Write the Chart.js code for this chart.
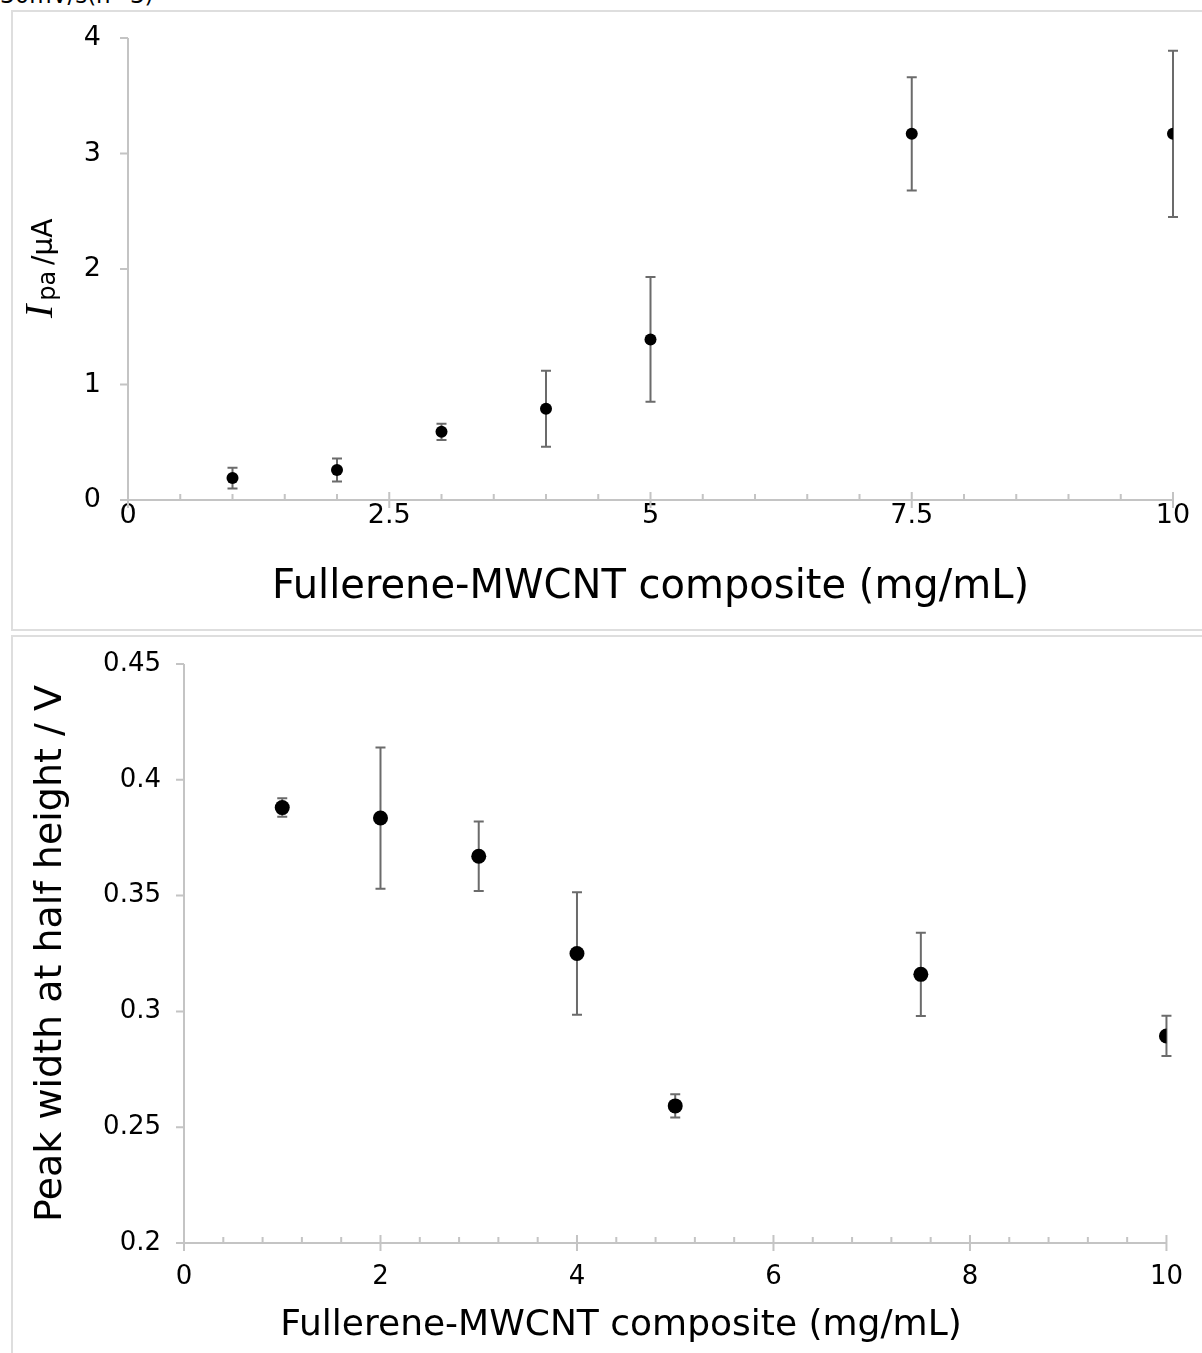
<!DOCTYPE html>
<html>
<head>
<meta charset="utf-8">
<script src="https://cdn.jsdelivr.net/npm/chart.js@4.4.0/dist/chart.umd.min.js"></script>
<style>
  body { margin: 0; background: #fff; width: 1202px; height: 1353px; overflow: hidden; position: relative; font-family: "DejaVu Sans", sans-serif; }
  .note { position: absolute; left: 0; top: -16px; font-size: 23px; line-height: 23px; color: #000; white-space: nowrap; }
  .panel { position: absolute; left: 11px; border: 2px solid #dedede; border-right: none; box-sizing: border-box; }
  #p1 { top: 10px; width: 1191px; height: 621px; }
  #p2 { top: 635px; width: 1191px; height: 730px; }
  canvas { position: absolute; }
  #currentChart { left: 12px; top: 11px; }
  #widthChart { left: 12px; top: 636px; }
</style>
</head>
<body>
<div class="note">30mV/s(n=3)</div>
<div class="panel" id="p1"></div>
<div class="panel" id="p2"></div>
<canvas id="currentChart" width="1190" height="619"></canvas>
<canvas id="widthChart" width="1190" height="717"></canvas>
<script>
document.addEventListener('DOMContentLoaded', function() {
    "use strict";

    // composite loading, mg/mL
    const loadings = [1, 2, 3, 4, 5, 7.5, 10];

    // top panel: anodic peak current (uA) with std dev
    const peakCurrent = [0.19, 0.26, 0.59, 0.79, 1.39, 3.17, 3.17];
    const peakCurrentErr = [0.09, 0.10, 0.07, 0.33, 0.54, 0.49, 0.72];

    // bottom panel: peak width at half height (V) with std dev
    const peakWidth = [0.388, 0.3835, 0.367, 0.325, 0.2592, 0.316, 0.2894];
    const peakWidthErr = [0.004, 0.0305, 0.015, 0.0265, 0.005, 0.018, 0.0087];

    const xTitle = 'Fullerene-MWCNT composite (mg/mL)';
    const widthTitle = 'Peak width at half height / V';

    const axisGrey = '#c4c4c4';
    const barGrey = '#6b6b6b';
    const FONT = '"DejaVu Sans", sans-serif';

    // axis lines, excel-style cross ticks, minor ticks and error bars
    const sciPlot = {
        id: 'sciPlot',
        beforeDatasetsDraw(chart, args, opts) {
            const ctx = chart.ctx;
            const xs = chart.scales.x, ys = chart.scales.y;
            const a = chart.chartArea;
            ctx.save();
            ctx.strokeStyle = axisGrey;
            ctx.lineWidth = 2;
            ctx.beginPath();
            ctx.moveTo(a.left, a.top);
            ctx.lineTo(a.left, a.bottom);
            ctx.moveTo(a.left - 8, a.bottom);
            ctx.lineTo(a.right, a.bottom);
            // y major ticks (outside)
            ys.ticks.forEach(t => {
                const y = ys.getPixelForValue(t.value);
                ctx.moveTo(a.left - 8, y);
                ctx.lineTo(a.left, y);
            });
            // x major ticks (cross)
            xs.ticks.forEach(t => {
                const x = xs.getPixelForValue(t.value);
                ctx.moveTo(x, a.bottom - 8);
                ctx.lineTo(x, a.bottom + 8);
            });
            // x minor ticks (inside)
            for (let v = opts.minorStep; v < xs.max - 1e-9; v += opts.minorStep) {
                const x = xs.getPixelForValue(v);
                ctx.moveTo(x, a.bottom - 6);
                ctx.lineTo(x, a.bottom);
            }
            ctx.stroke();

            // error bars
            const vals = chart.data.datasets[0].data;
            ctx.strokeStyle = barGrey;
            ctx.lineWidth = 2;
            ctx.beginPath();
            vals.forEach((p, i) => {
                const e = opts.errors[i];
                const x = xs.getPixelForValue(p.x);
                const yHi = ys.getPixelForValue(p.y + e);
                const yLo = ys.getPixelForValue(p.y - e);
                ctx.moveTo(x, yHi);
                ctx.lineTo(x, yLo);
                ctx.moveTo(x - 5, yHi);
                ctx.lineTo(x + 5, yHi);
                ctx.moveTo(x - 5, yLo);
                ctx.lineTo(x + 5, yLo);
            });
            ctx.stroke();
            ctx.restore();
        },
        afterDraw(chart, args, opts) {
            const ctx = chart.ctx;
            if (opts.ipaTitle) {
                // I_pa /uA with italic serif I and subscript "pa"
                ctx.save();
                ctx.translate(40, 307);
                ctx.rotate(-Math.PI / 2);
                ctx.fillStyle = '#000';
                ctx.textBaseline = 'alphabetic';
                ctx.textAlign = 'left';
                ctx.font = 'italic 40px "Liberation Serif", serif';
                ctx.fillText('I', 0, 0);
                const wI = ctx.measureText('I').width;
                ctx.font = '24px ' + FONT;
                ctx.fillText('pa', wI + 4, 3);
                ctx.font = '28px ' + FONT;
                ctx.fillText('/\u00b5A', 53, 0);
                ctx.restore();
            }
            if (opts.xTitleAt) {
                ctx.save();
                ctx.fillStyle = '#000';
                ctx.font = opts.xTitleAt.size + 'px ' + FONT;
                ctx.textAlign = 'center';
                ctx.textBaseline = 'middle';
                ctx.fillText(xTitle, opts.xTitleAt.x, opts.xTitleAt.y);
                ctx.restore();
            }
        }
    };

    Chart.register(sciPlot);

    function makePoints(ys) {
        return loadings.map((x, i) => ({ x: x, y: ys[i] }));
    }

    // drop the half-label overhang so layout padding sets the plot top
    function fixYWidth(w) {
        return s => { s.width = w; s.paddingTop = 0; s.paddingBottom = 0; };
    }

    // ==========================================
    // 1. Peak current vs loading
    // ==========================================
    const currentCtx = document.getElementById('currentChart');
    if (currentCtx) {
        new Chart(currentCtx, {
            type: 'scatter',
            data: {
                datasets: [{
                    data: makePoints(peakCurrent),
                    backgroundColor: '#000',
                    borderWidth: 0,
                    pointRadius: 6,
                    pointHoverRadius: 6
                }]
            },
            options: {
                responsive: false,
                animation: false,
                devicePixelRatio: 1,
                layout: { padding: { top: 27, right: 29, left: 0, bottom: 0 } },
                plugins: {
                    legend: { display: false },
                    tooltip: { enabled: false },
                    sciPlot: { minorStep: 0.5, errors: peakCurrentErr, ipaTitle: true }
                },
                scales: {
                    x: {
                        type: 'linear',
                        min: 0,
                        max: 10,
                        grid: { display: false, drawTicks: false },
                        border: { display: false },
                        ticks: {
                            stepSize: 2.5,
                            autoSkip: false,
                            maxRotation: 0,
                            padding: 0,
                            color: '#000',
                            font: { family: FONT, size: 27 },
                            callback: v => String(v)
                        },
                        title: {
                            display: true,
                            text: xTitle,
                            color: '#000',
                            font: { family: FONT, size: 40 },
                            padding: { top: 0, bottom: 18 }
                        },
                        afterFit: s => { s.height = 130; }
                    },
                    y: {
                        min: 0,
                        max: 4,
                        grid: { display: false, drawTicks: false },
                        border: { display: false },
                        ticks: {
                            stepSize: 1,
                            padding: 27,
                            color: '#000',
                            font: { family: FONT, size: 27 }
                        },
                        afterFit: fixYWidth(116)
                    }
                }
            }
        });
    }

    // ==========================================
    // 2. Peak width vs loading
    // ==========================================
    const widthCtx = document.getElementById('widthChart');
    if (widthCtx) {
        new Chart(widthCtx, {
            type: 'scatter',
            data: {
                datasets: [{
                    data: makePoints(peakWidth),
                    backgroundColor: '#000',
                    borderWidth: 0,
                    pointRadius: 7.5,
                    pointHoverRadius: 7.5
                }]
            },
            options: {
                responsive: false,
                animation: false,
                devicePixelRatio: 1,
                layout: { padding: { top: 28, right: 28, left: 0, bottom: 0 } },
                plugins: {
                    legend: { display: false },
                    tooltip: { enabled: false },
                    sciPlot: {
                        minorStep: 0.4,
                        errors: peakWidthErr,
                        ipaTitle: false,
                        xTitleAt: { x: 609, y: 690, size: 36 }
                    }
                },
                scales: {
                    x: {
                        type: 'linear',
                        min: 0,
                        max: 10,
                        grid: { display: false, drawTicks: false },
                        border: { display: false },
                        ticks: {
                            stepSize: 2,
                            autoSkip: false,
                            maxRotation: 0,
                            padding: 19,
                            color: '#000',
                            font: { family: FONT, size: 26 }
                        },
                        afterFit: s => { s.height = 110; }
                    },
                    y: {
                        min: 0.2,
                        max: 0.45,
                        grid: { display: false, drawTicks: false },
                        border: { display: false },
                        ticks: {
                            stepSize: 0.05,
                            padding: 23,
                            color: '#000',
                            font: { family: FONT, size: 26 },
                            callback: v => String(Number(v.toFixed(2)))
                        },
                        title: {
                            display: true,
                            text: widthTitle,
                            color: '#000',
                            font: { family: FONT, size: 38 },
                            padding: { top: 16, bottom: 0 }
                        },
                        afterFit: fixYWidth(172)
                    }
                }
            }
        });
    }
});
</script>
</body>
</html>
